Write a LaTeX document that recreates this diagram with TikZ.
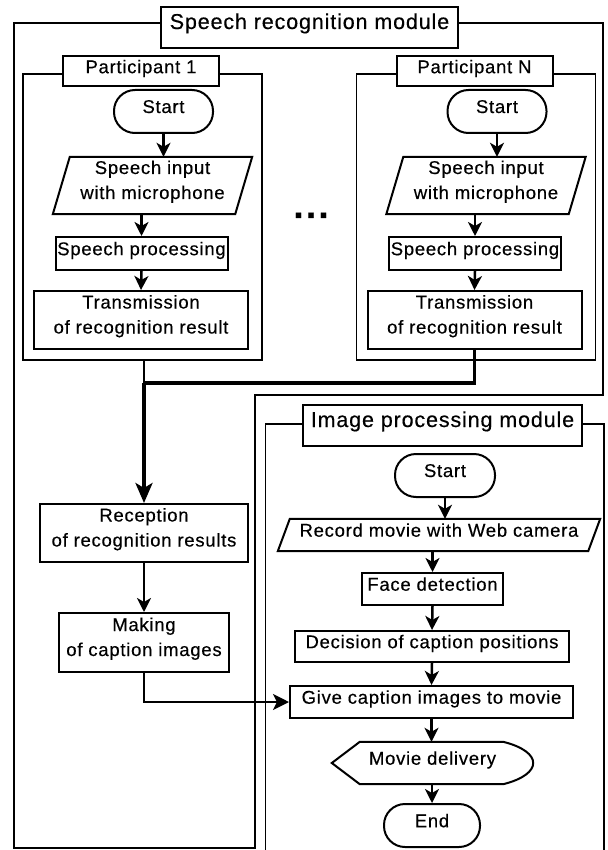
\documentclass[tikz,border=0pt]{standalone}
\usepackage{fontspec}
\setmainfont{Liberation Sans}[LetterSpace=4,FakeBold=0.4]
\usetikzlibrary{arrows.meta}
\newcommand{\bodyfont}{\fontsize{18.5}{25}\selectfont}
\newcommand{\titlefont}{\fontsize{21.5}{25}\selectfont}
\newcommand{\mySL}[1]{\rule[-10pt]{0pt}{23pt}#1}
\newcommand{\myML}[2]{\rule{0pt}{14pt}#1\\#2\rule[-12pt]{0pt}{12pt}}
\newcommand{\myTL}[1]{\rule[-13pt]{0pt}{29pt}#1}
\newcommand{\myPL}[1]{\rule[-9pt]{0pt}{22pt}#1}
\newcommand{\drawpara}[2]{\draw[boxline] ([xshift=#2]#1.north west) -- ([xshift=#2]#1.north east) -- ([xshift=-#2]#1.south east) -- ([xshift=-#2]#1.south west) -- cycle;}
\begin{document}
\begin{tikzpicture}[x=1pt,y=-1pt,
  frame/.style={line width=1.6pt},
  boxline/.style={line width=2pt, line join=miter},
  box/.style={draw, line width=2pt, inner sep=0pt, align=center, font=\bodyfont, fill=white},
  plain/.style={inner sep=0pt, align=center, font=\bodyfont},
  term/.style={box, rounded corners=21pt},
  titlebox/.style={draw, line width=2pt, inner sep=0pt, fill=white, font=\titlefont},
  labbox/.style={draw, line width=2pt, inner sep=0pt, fill=white, font=\bodyfont},
  arr/.style={line width=2.5pt, -{Stealth[length=14pt,width=14pt,inset=4pt]}},
  bigarr/.style={line width=3.5pt, -{Stealth[length=20pt,width=17pt,inset=5pt]}},
  sidearr/.style={line width=2.6pt, -{Stealth[length=16pt,width=16pt,inset=4pt]}}
]
\fill[white] (0,0) rectangle (607,850);
\useasboundingbox (0,0) rectangle (607,850);

% outer speech recognition frame
\draw[frame] (161,23) -- (14,23) -- (14,848) -- (255,848) -- (255,395) -- (603,395) -- (603,23) -- (458,23);
% image processing frame
\draw[frame] (303,424) -- (265.5,424) -- (265.5,851);
\draw[frame] (582,424) -- (604,424) -- (604,851);

% participant frames
\node[draw, line width=1.6pt, minimum width=239pt, minimum height=286pt, inner sep=0pt] (p1frame) at (142.5,217) {};
\node[draw, line width=1.6pt, minimum width=239pt, minimum height=286pt, inner sep=0pt] (pNframe) at (476,217) {};

% titles
\node[titlebox, minimum width=297pt, minimum height=41pt] (title1) at (309.5,27.5) {\myTL{Speech recognition module}};
\node[titlebox, minimum width=279pt, minimum height=41pt] (title2) at (442.5,425.5) {\myTL{Image processing module}};
\node[labbox, minimum width=156pt, minimum height=30pt] (p1lab) at (141,71) {\myPL{Participant 1}};
\node[labbox, minimum width=156pt, minimum height=30pt] (pNlab) at (474.5,71) {\myPL{Participant N}};

% participant 1
\node[term, minimum width=99pt, minimum height=43pt] (st1) at (163.5,111.5) {\mySL{Start}};
\node[plain, minimum width=182pt, minimum height=57pt] (in1) at (152.5,185.5) {\myML{Speech input}{with microphone}};
\drawpara{in1}{8.5pt}
\node[box, minimum width=172pt, minimum height=33pt] (sp1) at (141.5,253.5) {\mySL{Speech processing}};
\node[box, minimum width=214pt, minimum height=58pt] (tr1) at (141,320) {\myML{Transmission}{of recognition result}};

% participant N
\node[term, minimum width=99pt, minimum height=43pt] (stN) at (497,111.5) {\mySL{Start}};
\node[plain, minimum width=182pt, minimum height=57pt] (inN) at (486,185.5) {\myML{Speech input}{with microphone}};
\drawpara{inN}{8.5pt}
\node[box, minimum width=172pt, minimum height=33pt] (spN) at (475,253.5) {\mySL{Speech processing}};
\node[box, minimum width=214pt, minimum height=58pt] (trN) at (474.5,320) {\myML{Transmission}{of recognition result}};

% dots
\node[inner sep=0pt, anchor=base, font=\fontsize{36}{36}\selectfont\bfseries\addfontfeature{LetterSpace=7}] (dots) at (311,218) {...};

% arrows in participant columns
\draw[arr] (st1.south) -- (st1.south |- in1.north);
\draw[arr] (sp1.north |- in1.south) -- (sp1.north);
\draw[arr] (sp1.south) -- (tr1.north);
\draw[arr] (stN.south) -- (stN.south |- inN.north);
\draw[arr] (spN.north |- inN.south) -- (spN.north);
\draw[arr] (spN.south) -- (trN.north);

% left column
\node[box, minimum width=208pt, minimum height=58pt] (rec) at (144,533) {\myML{Reception}{of recognition results}};
\node[box, minimum width=170pt, minimum height=59pt] (mk) at (144,642.5) {\myML{Making}{of caption images}};

\coordinate (mj) at (144,383);
\draw[line width=1.8pt] (rec.north |- p1frame.south) -- (mj);
\draw[line width=3.5pt] (trN.south) -- (trN.south |- mj) -- (mj);
\draw[bigarr] (mj) -- (rec.north);
\draw[arr] (rec.south) -- (mk.north);

% image processing column
\node[term, minimum width=100pt, minimum height=43pt] (st2) at (445,475.5) {\mySL{Start}};
\node[plain, minimum width=310pt, minimum height=32pt] (cam) at (439,535) {\mySL{Record movie with Web camera}};
\drawpara{cam}{6pt}
\node[box, minimum width=141pt, minimum height=32pt] (face) at (432.5,589) {\mySL{Face detection}};
\node[box, minimum width=274pt, minimum height=31pt] (dec) at (432,646.5) {\mySL{Decision of caption positions}};
\node[box, minimum width=283pt, minimum height=32pt] (give) at (431.5,702) {\mySL{Give caption images to movie}};
\node[plain, minimum width=201pt, minimum height=42pt] (mov) at (432.5,763) {\mySL{Movie delivery}};
\draw[boxline] (mov.west) -- ([xshift=28pt]mov.north west) -- ([xshift=-30pt]mov.north east)
  .. controls ([xshift=10pt,yshift=-10pt]mov.north east) and ([xshift=10pt,yshift=10pt]mov.south east) .. ([xshift=-30pt]mov.south east)
  -- ([xshift=28pt]mov.south west) -- cycle;
\node[term, minimum width=96pt, minimum height=43pt] (end) at (432,825.5) {\mySL{End}};

\draw[arr] (st2.south) -- (st2.south |- cam.north);
\draw[arr] (face.north |- cam.south) -- (face.north);
\draw[arr] (face.south) -- (dec.north);
\draw[arr] (dec.south) -- (give.north);
\draw[arr] (give.south) -- (give.south |- mov.north);
\draw[arr] (end.north |- mov.south) -- (end.north);

\draw[sidearr] (mk.south) |- (give.west);
\end{tikzpicture}
\end{document}
